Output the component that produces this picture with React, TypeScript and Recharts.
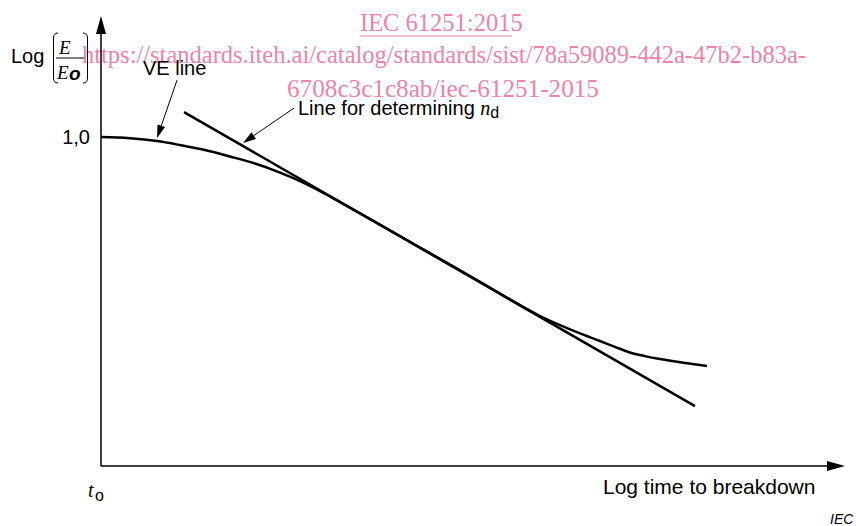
import React from 'react';
import { ComposedChart, Line, XAxis, YAxis, ReferenceLine, Customized } from 'recharts';

// VE line (x = log time, y = log E/Eo)
const veX = [0, 0.39, 0.753, 1.062, 1.398, 1.734, 2.07, 2.406, 2.675, 2.944, 3.212, 3.481, 3.75, 4.422, 5.094, 5.901, 6.169, 6.438, 6.707, 6.909, 7.11, 7.312, 7.513, 7.849, 8.145];
const veY = [1.0, 0.9964, 0.9878, 0.9757, 0.9605, 0.9407, 0.9195, 0.8921, 0.8663, 0.8359, 0.8024, 0.7681, 0.7337, 0.647, 0.56, 0.456, 0.428, 0.403, 0.38, 0.362, 0.345, 0.334, 0.325, 0.313, 0.304];

// straight line for determining n_d
const ndX = [1.116, 7.984];
const ndY = [1.076, 0.182];

const yTicks = [1];
const X_MAX = 10;
const Y_MAX = 1.368;

const veData = veX.map((x, i) => ({ x, y: veY[i] }));
const ndData = ndX.map((x, i) => ({ x, y: ndY[i] }));

const FONT = '"Liberation Sans", Arial, sans-serif';
const SERIF = '"Liberation Serif", "Times New Roman", serif';
const PINK = '#ec84a8';

// line with a filled arrow head at its second end
const arrowShape = (len: number, half: number, width: number) => (p: any) => {
  const { x1, y1, x2, y2 } = p;
  const a = Math.atan2(y2 - y1, x2 - x1);
  const bx = x2 - len * Math.cos(a);
  const by = y2 - len * Math.sin(a);
  const nx = -Math.sin(a) * half;
  const ny = Math.cos(a) * half;
  return (
    <g>
      <line x1={x1} y1={y1} x2={bx} y2={by} stroke="#000" strokeWidth={width} />
      <polygon points={`${x2},${y2} ${bx + nx},${by + ny} ${bx - nx},${by - ny}`} fill="#000" />
    </g>
  );
};

const Labels = () => (
  <g>
    {/* watermark */}
    <g fill={PINK} fontFamily={SERIF} fontSize={24.5}>
      <text x={360} y={31}>IEC 61251:2015</text>
      <line x1={360} y1={36} x2={512} y2={36} stroke={PINK} strokeWidth={1} />
      <text x={82} y={63}>https://standards.iteh.ai/catalog/standards/sist/78a59089-442a-47b2-b83a-</text>
      <text x={287} y={97} fontSize={25.2}>6708c3c1c8ab/iec-61251-2015</text>
    </g>
    {/* y label: Log (E / Eo) */}
    <text x={11} y={63} fontFamily={FONT} fontSize={20}>Log</text>
    <path d="M58 33 Q53.5 33 53.5 38 L53.5 78 Q53.5 83 58 83" fill="none" stroke="#000" strokeWidth={1} />
    <path d="M83 33 Q87.5 33 87.5 38 L87.5 78 Q87.5 83 83 83" fill="none" stroke="#000" strokeWidth={1} />
    <text x={59} y={54} fontFamily={SERIF} fontStyle="italic" fontSize={19}>E</text>
    <line x1={56} y1={58} x2={84} y2={58} stroke="#000" strokeWidth={1} />
    <text x={57} y={79} fontFamily={SERIF} fontStyle="italic" fontSize={19}>E</text>
    <text x={69} y={80} fontFamily={FONT} fontStyle="italic" fontWeight="bold" fontSize={19}>o</text>
    {/* annotations */}
    <text x={143} y={75} fontFamily={FONT} fontSize={20}>VE line</text>
    <text x={298} y={115} fontFamily={FONT} fontSize={20}>
      Line for determining <tspan fontFamily={SERIF} fontStyle="italic">n</tspan>
      <tspan fontSize={16} dy={3}>d</tspan>
    </text>
    <text x={88} y={497} fontFamily={SERIF} fontStyle="italic" fontSize={20}>t</text>
    <text x={95} y={501} fontFamily={FONT} fontSize={16}>o</text>
    <text x={603} y={494} fontFamily={FONT} fontSize={21}>Log time to breakdown</text>
    <text x={830} y={524} fontFamily={FONT} fontStyle="italic" fontSize={14}>IEC</text>
  </g>
);

export default function App() {
  return (
    <div style={{ position: 'absolute', left: 0, top: 0, background: '#fff' }}>
      <ComposedChart width={856} height={526} margin={{ top: 16, right: 11, bottom: 60, left: 41 }}>
        <XAxis type="number" dataKey="x" domain={[0, X_MAX]} hide allowDataOverflow />
        <YAxis
          type="number"
          dataKey="y"
          domain={[0, Y_MAX]}
          width={60}
          ticks={yTicks}
          tickFormatter={(v: number) => v.toFixed(1).replace('.', ',')}
          axisLine={false}
          tickLine={false}
          tickMargin={5}
          tick={{ fill: '#000', fontSize: 20, fontFamily: FONT }}
          allowDataOverflow
        />
        {/* axes with arrow heads */}
        <ReferenceLine segment={[{ x: 0, y: 0 }, { x: X_MAX, y: 0 }]} shape={arrowShape(18, 5, 1.5)} ifOverflow="visible" />
        <ReferenceLine segment={[{ x: 0, y: 0 }, { x: 0, y: Y_MAX }]} shape={arrowShape(18, 5, 1.5)} ifOverflow="visible" />
        {/* pointer arrows */}
        <ReferenceLine segment={[{ x: 1.022, y: 1.173 }, { x: 0.753, y: 0.997 }]} shape={arrowShape(13, 4, 1)} ifOverflow="visible" />
        <ReferenceLine segment={[{ x: 2.594, y: 1.088 }, { x: 1.909, y: 0.982 }]} shape={arrowShape(13, 4, 1)} ifOverflow="visible" />
        <Line data={veData} dataKey="y" type="monotone" stroke="#000" strokeWidth={2.5} dot={false} isAnimationActive={false} />
        <Line data={ndData} dataKey="y" type="linear" stroke="#000" strokeWidth={2.5} dot={false} isAnimationActive={false} />
        <Customized component={Labels} />
      </ComposedChart>
    </div>
  );
}
